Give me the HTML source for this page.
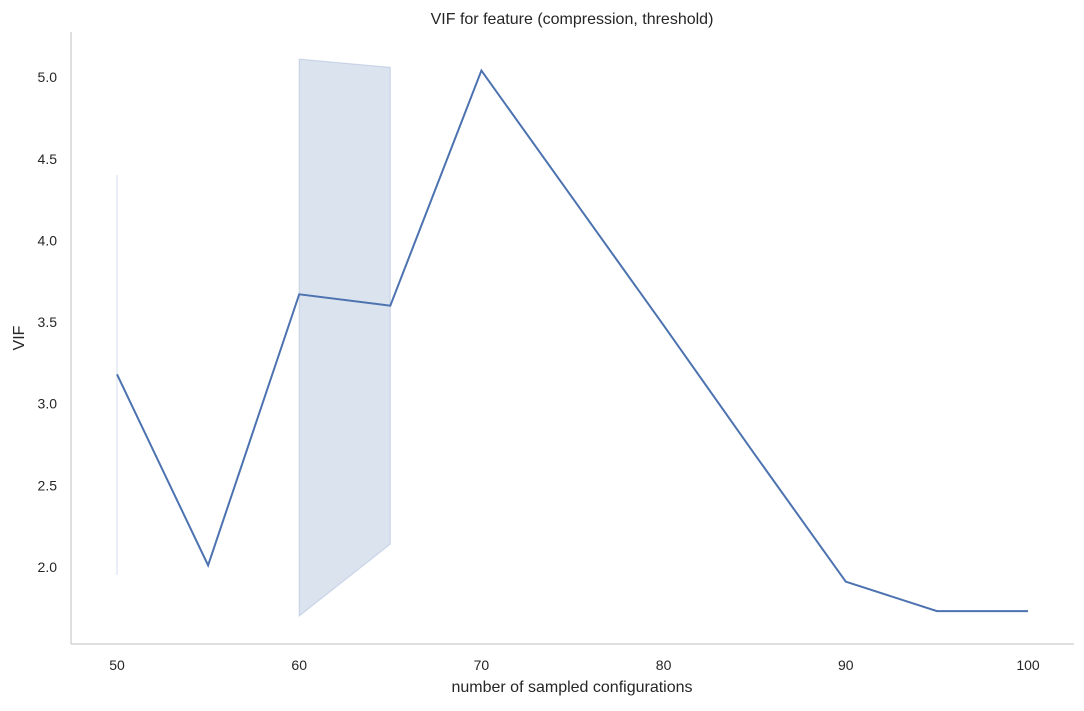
<!DOCTYPE html>
<html><head><meta charset="utf-8">
<style>
body{margin:0;background:#fff;}
svg text{font-family:"Liberation Sans","DejaVu Sans",sans-serif;fill:#262626;}
</style></head>
<body>
<svg id="chart" width="1084" height="706" xmlns="http://www.w3.org/2000/svg">
<rect width="1084" height="706" fill="#fff"/>
<text x="572" y="24" font-size="16" text-anchor="middle">VIF for feature (compression, threshold)</text>
<g id="bands"></g>
<g id="lines"></g>
<line x1="71" y1="32" x2="71" y2="644" stroke="#ccc" stroke-width="1.25"/>
<line x1="71" y1="644" x2="1074" y2="644" stroke="#ccc" stroke-width="1.25"/>
<g id="xticks"></g>
<g id="yticks"></g>
<text x="572" y="692" font-size="16" text-anchor="middle">number of sampled configurations</text>
<text transform="translate(24,338) rotate(-90)" font-size="16" text-anchor="middle">VIF</text>
</svg>
<script>
const xValues=[50,55,60,65,70,75,80,85,90,95,100];
const vifMean=[3.18,2.01,3.67,3.60,5.04,4.26,3.48,2.69,1.91,1.73,1.73];
const ciLow=[1.95,null,1.70,2.14,null,null,null,null,null,null,null];
const ciHigh=[4.40,null,5.11,5.06,null,null,null,null,null,null,null];
const xTickVals=[50,60,70,80,90,100];
const yTickVals=[2.0,2.5,3.0,3.5,4.0,4.5,5.0];
const xs=v=>117+(v-50)*18.22;
const ys=v=>567-(v-2)*163.3;
const NS="http://www.w3.org/2000/svg";
function mk(tag,attrs,parent){const e=document.createElementNS(NS,tag);for(const k in attrs)e.setAttribute(k,attrs[k]);parent.appendChild(e);return e;}
const bands=document.getElementById('bands');
let segs=[],cur=[];
xValues.forEach((x,i)=>{if(ciLow[i]===null||ciHigh[i]===null){if(cur.length)segs.push(cur);cur=[];}else cur.push(i);});
if(cur.length)segs.push(cur);
segs.forEach(s=>{
  const up=s.map(i=>xs(xValues[i])+","+ys(ciHigh[i]));
  const lo=s.map(i=>xs(xValues[i])+","+ys(ciLow[i])).reverse();
  const band=mk('polygon',{points:up.concat(lo).join(' '),fill:'#4c72b0','fill-opacity':0.2,stroke:'#4c72b0','stroke-opacity':0.2,'stroke-width':1.2},bands);
  
  
});
const line=mk('polyline',{points:xValues.map((x,i)=>xs(x)+","+ys(vifMean[i])).join(' '),fill:'none',stroke:'#4c72b0','stroke-width':2},document.getElementById('lines'));


const xt=document.getElementById('xticks');
xTickVals.forEach(v=>{const t=mk('text',{x:xs(v),y:670,'font-size':14,'text-anchor':'middle'},xt);t.textContent=v;

});
const yt=document.getElementById('yticks');
yTickVals.forEach(v=>{const t=mk('text',{x:57,y:ys(v)+5,'font-size':14,'text-anchor':'end'},yt);t.textContent=v.toFixed(1);

});
</script>
</body></html>
